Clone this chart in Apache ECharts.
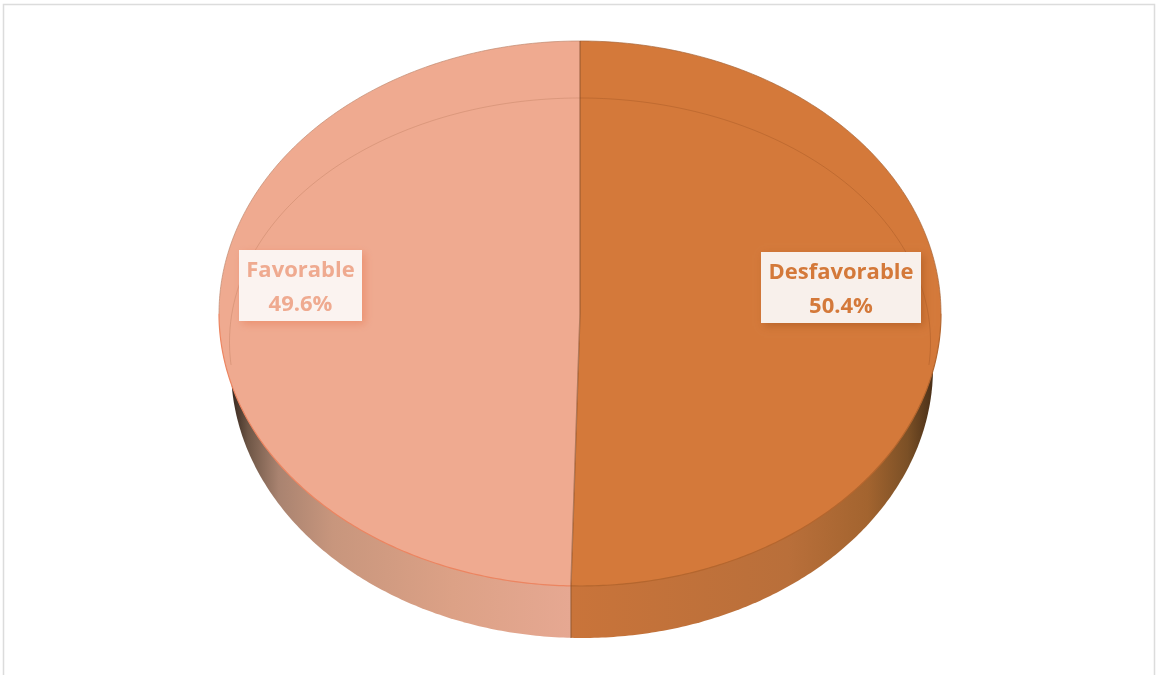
<!DOCTYPE html>
<html>
<head>
<meta charset="utf-8">
<style>html,body{margin:0;padding:0;background:#fff}#chart{width:1157px;height:675px}</style>
<script src="https://cdn.jsdelivr.net/npm/echarts@6/dist/echarts.min.js"></script>
</head>
<body>
<div id="chart"></div>
<script>
// Tilted disc chart: share of favourable and unfavourable opinions.
const categories = ['Desfavorable', 'Favorable'];
const shares = [50.4, 49.6];
const topColors = ['#D4793A', '#EFAA90'];
const edgeColors = ['#B4662E', '#EC8561'];
const labelTextColors = ['#D4793A', '#EFAA90'];
const labelBoxColors = ['#F8F0EB', '#FBF3F0'];
const labelShadows = ['rgba(165,85,30,0.55)', 'rgba(232,130,95,0.65)'];
const labelBoxes = [[761, 252, 160, 71], [239, 250, 123, 71]];

const top_ = { cx: 580, cy: 313.5, rx: 361, ry: 272.5 };
const rim = { cx: 580, cy: 342, rx: 350.5, ry: 244 };
const base = { cx: 582, cy: 368, rx: 351, ry: 270 };

const total = shares.reduce((a, b) => a + b, 0);

// Angles run clockwise from the top of the disc, in radians.
function onEllipse(e, a) {
  return [e.cx + e.rx * Math.sin(a), e.cy - e.ry * Math.cos(a)];
}
function arc(e, from, to) {
  const steps = Math.max(8, Math.ceil(Math.abs(to - from) * 90));
  const pts = [];
  for (let i = 0; i <= steps; i++) pts.push(onEllipse(e, from + (to - from) * i / steps));
  return pts;
}

const divideAngle = shares[0] / total * Math.PI * 2;
const divideX = onEllipse(top_, divideAngle)[0];
const divideY = onEllipse(top_, divideAngle)[1];
const baseDivideAngle = Math.PI - Math.asin((divideX - base.cx) / base.rx);
const sliceRanges = [[0, divideAngle], [divideAngle, Math.PI * 2]];
const wallRanges = [[Math.PI / 2 - 0.2, baseDivideAngle], [baseDivideAngle, Math.PI * 1.5 + 0.2]];

// Horizontal shading of the wall, dark at the outer ends.
function wallFill(idx) {
  const stops = idx === 0
    ? [[0, '#C9743A'], [0.6, '#B96F3A'], [0.82, '#A3642F'], [0.93, '#7B5026'], [1, '#4A3018']]
    : [[0, '#35261D'], [0.05, '#6E5646'], [0.14, '#A98370'], [0.3, '#C8967D'], [0.65, '#DCA186'], [1, '#E6A892']];
  const x0 = idx === 0 ? divideX : base.cx - base.rx;
  const x1 = idx === 0 ? base.cx + base.rx : divideX;
  return {
    type: 'linear', x: x0, y: 0, x2: x1, y2: 0, global: true,
    colorStops: stops.map(s => ({ offset: s[0], color: s[1] }))
  };
}

function renderSlice(params, api) {
  const i = api.value(0);
  const [a0, a1] = sliceRanges[i];
  const [w0, w1] = wallRanges[i];
  const children = [];

  const wallPts = arc(base, w0, w1).concat([[divideX, divideY]]);
  children.push({
    type: 'polygon', shape: { points: wallPts },
    style: { fill: wallFill(i), stroke: null }
  });
  children.push({
    type: 'polygon', shape: { points: arc(top_, a0, a1).concat([[top_.cx, top_.cy]]) },
    style: { fill: topColors[i], stroke: null }
  });
  // Outer edge of the disc face
  children.push({
    type: 'polyline', shape: { points: arc(top_, i === 0 ? Math.PI / 2 : a0, i === 0 ? a1 : Math.PI * 1.5) },
    style: { fill: null, stroke: edgeColors[i], lineWidth: 1.2 }
  });
  children.push({
    type: 'polyline', shape: { points: arc(top_, i === 0 ? 0 : Math.PI * 1.5, i === 0 ? Math.PI / 2 : Math.PI * 2) },
    style: { fill: null, stroke: i === 0 ? 'rgba(168,104,60,0.7)' : 'rgba(192,138,112,0.7)', lineWidth: 1 }
  });
  // Faint inner rim of the bevel
  children.push({
    type: 'polyline', shape: { points: arc(rim, i === 0 ? 0 : Math.PI * 1.47, i === 0 ? Math.PI * 0.53 : Math.PI * 2) },
    style: { fill: null, stroke: i === 0 ? 'rgba(160,85,35,0.4)' : 'rgba(190,125,95,0.4)', lineWidth: 1 }
  });
  return { type: 'group', children };
}

function renderDivider() {
  return {
    type: 'group',
    children: [
      {
        type: 'polyline',
        shape: { points: [[top_.cx, top_.cy - top_.ry], [top_.cx, top_.cy], [divideX, divideY], [divideX, divideY + 52]] },
        style: { fill: null, stroke: 'rgba(135,80,45,0.6)', lineWidth: 1.4 }
      }
    ]
  };
}

function renderLabel(params, api) {
  const i = api.value(0);
  const [x, y, w, h] = labelBoxes[i];
  const pct = shares[i].toFixed(1) + '%';
  return {
    type: 'group',
    children: [
      {
        type: 'rect', shape: { x, y, width: w, height: h },
        style: {
          fill: labelBoxColors[i],
          shadowColor: labelShadows[i], shadowBlur: 8, shadowOffsetX: 3, shadowOffsetY: 3
        }
      },
      {
        type: 'text', x: x + w / 2, y: y + h / 2 + 2,
        style: {
          text: categories[i] + '\n' + pct,
          fill: labelTextColors[i],
          font: '700 22px "Open Sans", sans-serif',
          lineHeight: 34,
          align: 'center', verticalAlign: 'middle'
        }
      }
    ]
  };
}

const chart = echarts.init(document.getElementById('chart'), null, { renderer: 'canvas' });
chart.setOption({
  animation: false,
  backgroundColor: '#fff',
  tooltip: { show: false },
  graphic: [{
    type: 'rect', silent: true, z: 0,
    shape: { x: 3.5, y: 4.5, width: 1151, height: 690 },
    style: { fill: '#fff', stroke: '#DCDCDC', lineWidth: 1.5 }
  }],
  series: [
    { type: 'custom', coordinateSystem: 'none', z: 2, silent: true, renderItem: renderSlice,
      data: categories.map((c, i) => [i, shares[i]]) },
    { type: 'custom', coordinateSystem: 'none', z: 3, silent: true, renderItem: renderDivider, data: [[0]] },
    { type: 'custom', coordinateSystem: 'none', z: 4, silent: true, renderItem: renderLabel,
      data: categories.map((c, i) => [i, shares[i]]) }
  ]
});
</script>
</body>
</html>
